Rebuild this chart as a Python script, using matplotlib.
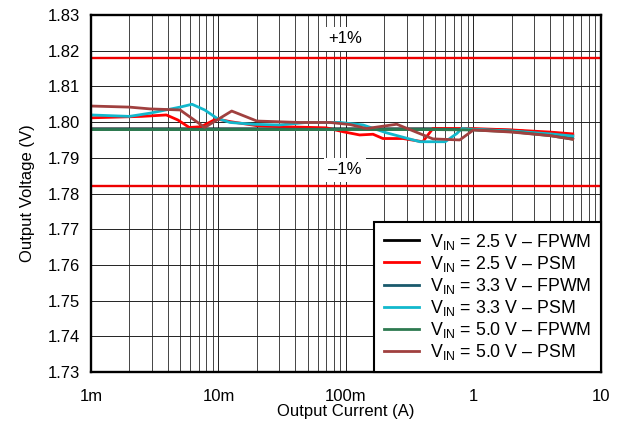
import numpy as np
import matplotlib
matplotlib.use('Agg')
import matplotlib.pyplot as plt
from matplotlib.ticker import FixedLocator, LogLocator, NullFormatter

plt.rcParams['font.family'] = ['Liberation Sans', 'DejaVu Sans']
plt.rcParams['mathtext.fontset'] = 'custom'
plt.rcParams['mathtext.rm'] = 'Liberation Sans'
plt.rcParams['mathtext.it'] = 'Liberation Sans'

# FPWM curves (nearly flat)
i_fpwm = [0.001, 0.01, 0.1, 0.5, 1.0, 2.0, 4.0, 6.0]
v_25_fpwm = [1.7981, 1.7981, 1.7981, 1.7981, 1.7980, 1.7977, 1.7968, 1.7962]
v_33_fpwm = [1.7980, 1.7980, 1.7980, 1.7980, 1.7979, 1.7975, 1.7965, 1.7957]
v_50_fpwm = [1.7979, 1.7979, 1.7979, 1.7979, 1.7978, 1.7973, 1.7962, 1.7952]

# PSM curves
i_25_psm = [0.001, 0.0025, 0.0039, 0.0048, 0.0059, 0.0073, 0.0096, 0.0125, 0.020,
            0.032, 0.070, 0.095, 0.128, 0.163, 0.195, 0.280, 0.400, 0.480,
            1.0, 2.0, 4.0, 6.0]
v_25_psm = [1.8012, 1.8016, 1.8020, 1.8006, 1.7985, 1.7987, 1.8009, 1.8001, 1.7990,
            1.7987, 1.7984, 1.7973, 1.7964, 1.7966, 1.7954, 1.7954, 1.7945, 1.7982,
            1.7982, 1.7978, 1.7972, 1.7967]

i_33_psm = [0.001, 0.002, 0.0029, 0.005, 0.0062, 0.0078, 0.0097, 0.0123, 0.0187,
            0.030, 0.049, 0.090, 0.136, 0.208, 0.380, 0.600, 0.740, 0.810,
            1.0, 2.0, 4.0, 6.0]
v_33_psm = [1.8020, 1.8016, 1.8025, 1.8042, 1.8050, 1.8034, 1.8011, 1.7999, 1.7994,
            1.7992, 1.7999, 1.7999, 1.7992, 1.7970, 1.7945, 1.7945, 1.7968, 1.7982,
            1.7980, 1.7975, 1.7967, 1.7961]

i_50_psm = [0.001, 0.002, 0.0029, 0.005, 0.0078, 0.0127, 0.020, 0.043, 0.075,
            0.108, 0.145, 0.250, 0.480, 0.780, 1.0, 2.0, 4.0, 6.0]
v_50_psm = [1.8045, 1.8042, 1.8037, 1.8034, 1.7985, 1.8031, 1.8003, 1.7999, 1.7999,
            1.7993, 1.7982, 1.7994, 1.7953, 1.7950, 1.7978, 1.7972, 1.7962, 1.7952]

v_nom = 1.8
y_ticks = [1.73, 1.74, 1.75, 1.76, 1.77, 1.78, 1.79, 1.80, 1.81, 1.82, 1.83]
x_ticks = [0.001, 0.01, 0.1, 1, 10]
x_labels = ['1m', '10m', '100m', '1', '10']
labels = ['V$_{\\mathregular{IN}}$ = 2.5 V \u2013 FPWM',
          'V$_{\\mathregular{IN}}$ = 2.5 V \u2013 PSM',
          'V$_{\\mathregular{IN}}$ = 3.3 V \u2013 FPWM',
          'V$_{\\mathregular{IN}}$ = 3.3 V \u2013 PSM',
          'V$_{\\mathregular{IN}}$ = 5.0 V \u2013 FPWM',
          'V$_{\\mathregular{IN}}$ = 5.0 V \u2013 PSM']

fs = 12

fig = plt.figure(figsize=(6.21, 4.25), dpi=100)
ax = fig.add_axes([0.1465, 0.1247, 0.8213, 0.84])

ax.set_xscale('log')
ax.set_xlim(0.001, 10)
ax.set_ylim(1.73, 1.83)

# grid
ax.xaxis.set_major_locator(FixedLocator(x_ticks))
ax.xaxis.set_minor_locator(LogLocator(base=10, subs=np.arange(2, 10)))
ax.xaxis.set_minor_formatter(NullFormatter())
ax.set_xticks(x_ticks)
ax.set_xticklabels(x_labels)
ax.set_yticks(y_ticks)
ax.set_yticklabels(['%.2f' % v for v in y_ticks])
ax.grid(True, which='major', color='#222222', linewidth=0.7)
ax.grid(True, which='minor', axis='x', color='#444444', linewidth=0.7)
ax.tick_params(axis='y', which='both', length=0, labelsize=fs, pad=8)
ax.tick_params(axis='x', which='both', length=0, labelsize=fs, pad=12)
ax.set_axisbelow(True)

# +/-1% limits
ax.axhline(v_nom * 1.01, color='#ee0000', linewidth=1.7)
ax.axhline(v_nom * 0.99, color='#ee0000', linewidth=1.7)
ax.text(0.098, 1.8233, '+1%', fontsize=fs, ha='center', va='center',
        bbox=dict(facecolor='white', edgecolor='none', pad=3))
ax.text(0.098, 1.7866, '\u20131%', fontsize=fs, ha='center', va='center',
        bbox=dict(facecolor='white', edgecolor='none', pad=3))

lw = 2.0
ax.plot(i_fpwm, v_25_fpwm, color='#000000', lw=lw, label=labels[0])
ax.plot(i_25_psm, v_25_psm, color='#ff0000', lw=lw, label=labels[1])
ax.plot(i_fpwm, v_33_fpwm, color='#1a5a6c', lw=lw, label=labels[2])
ax.plot(i_33_psm, v_33_psm, color='#12b8cc', lw=lw, label=labels[3])
ax.plot(i_fpwm, v_50_fpwm, color='#2e7a50', lw=lw, label=labels[4])
ax.plot(i_50_psm, v_50_psm, color='#a0403f', lw=lw, label=labels[5])

for s in ax.spines.values():
    s.set_linewidth(1.7)
    s.set_color('black')

leg = ax.legend(loc='lower right', fontsize=12.8, frameon=True, fancybox=False,
                borderaxespad=0, handlelength=2.0, handletextpad=0.6,
                labelspacing=0.12, borderpad=0.55)
leg.get_frame().set_edgecolor('black')
leg.get_frame().set_linewidth(1.5)
leg.get_frame().set_alpha(1)
for h in leg.get_lines():
    h.set_linewidth(2.0)

ax.set_xlabel('Output Current (A)', fontsize=fs, labelpad=0)
ax.set_ylabel('Output Voltage (V)', fontsize=fs, labelpad=9)

fig.savefig('out.png', dpi=100)
